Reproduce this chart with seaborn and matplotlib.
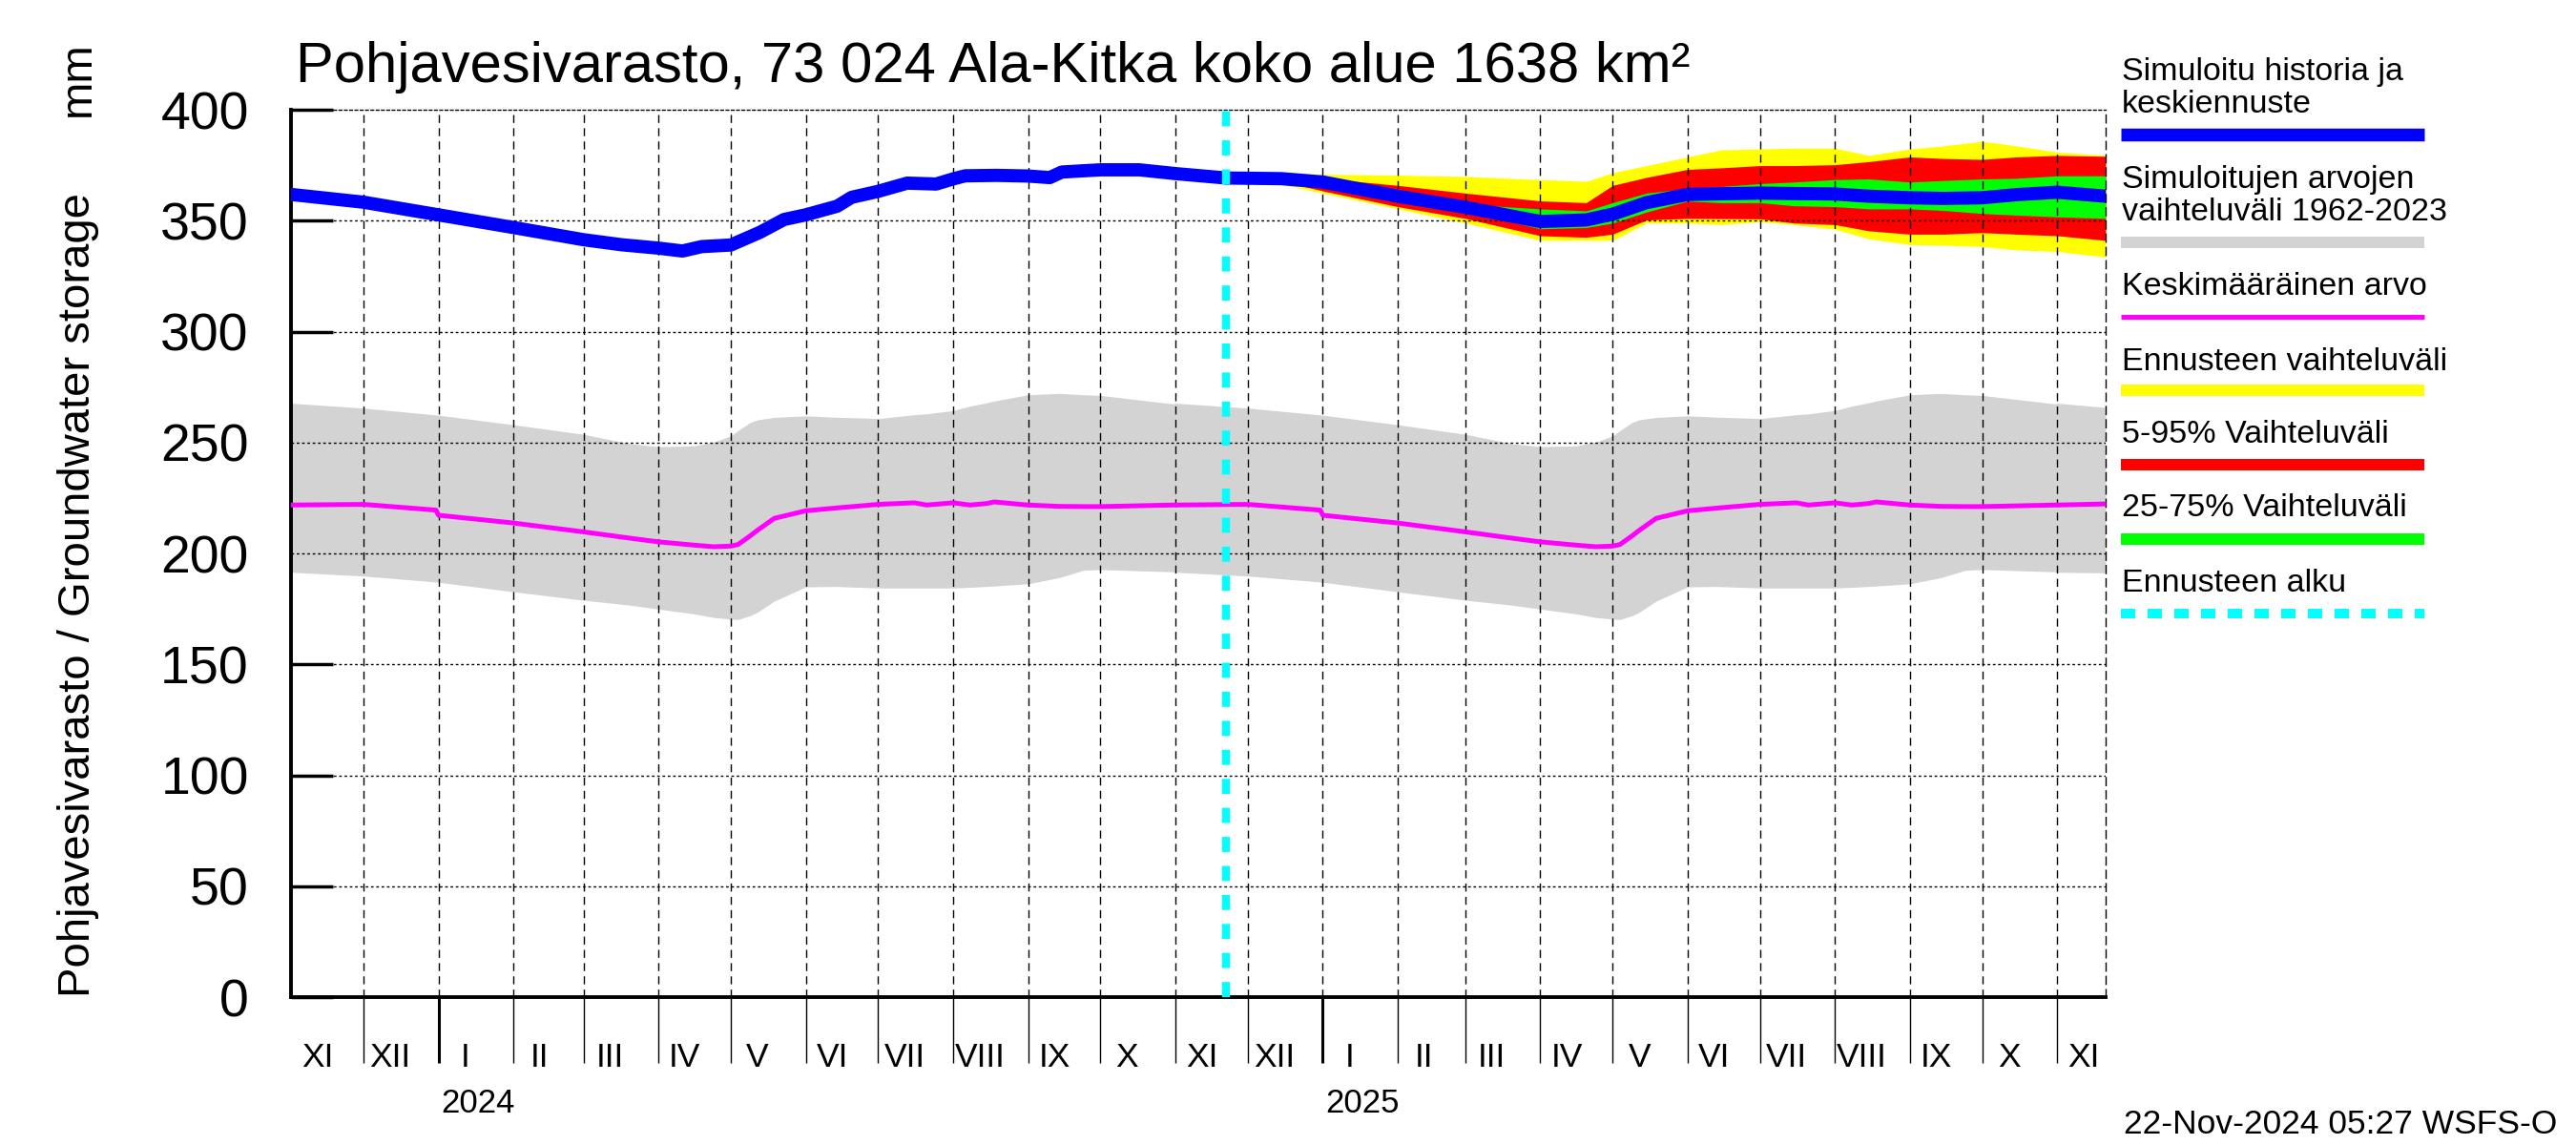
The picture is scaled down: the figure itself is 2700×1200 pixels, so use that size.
import numpy as np
import pandas as pd
import matplotlib
matplotlib.use('Agg')
import matplotlib.pyplot as plt
import matplotlib.dates as mdates
import matplotlib.transforms as mtrans
from matplotlib.lines import Line2D
import seaborn as sns

sns.set_style('white')
plt.rcParams['font.family'] = ['Liberation Sans', 'DejaVu Sans']
plt.rcParams['text.color'] = 'black'
plt.rcParams['xtick.color'] = 'black'
plt.rcParams['ytick.color'] = 'black'

start = pd.Timestamp('2023-11-01')
end = pd.Timestamp('2025-11-21')
fc_start = pd.Timestamp('2024-11-22')

# simulated range 1962-2023 and mean, by day of year
clim_md = ['01-01', '02-01', '03-01', '03-20', '04-01', '04-16', '04-24', '05-01', '05-04',
           '05-09', '05-12', '05-19', '06-01', '06-13', '07-01', '07-16', '07-21', '08-01',
           '08-08', '08-15', '08-18', '09-01', '09-14', '09-24', '10-01', '10-31', '11-01',
           '12-01', '12-31']
clim_top = [262.4, 258.1, 253.8, 249.6, 248.2, 248.6, 250.3, 253.1, 255.5,
            259.1, 260.3, 261.4, 262.1, 261.5, 260.9, 262.6, 263.0, 264.5,
            266.5, 268.0, 268.8, 271.6, 272.2, 271.6, 271.3, 267.5, 267.8,
            265.6, 262.5]
clim_low = [187.1, 182.8, 179.0, 176.8, 175.0, 172.8, 171.2, 170.5, 170.3,
            172.0, 173.6, 178.6, 185.0, 185.2, 184.5, 184.5, 184.5, 184.5,
            184.8, 185.2, 185.4, 186.4, 189.2, 192.5, 192.8, 191.8, 191.6,
            189.9, 187.2]
clim_mean = [217.3, 213.8, 209.8, 207.0, 205.3, 203.8, 203.1, 203.4, 204.1,
             208.0, 210.5, 215.9, 219.3, 220.5, 222.2, 222.9, 221.9, 222.9,
             221.9, 222.6, 223.3, 221.9, 221.3, 221.2, 221.2, 221.9, 221.9,
             222.2, 219.6]
clim_end = [265.9, 191.3, 222.4]

# simulated history
hist_dates = ['2023-11-01', '2023-12-01', '2024-01-01', '2024-02-01', '2024-03-01', '2024-03-17',
              '2024-04-01', '2024-04-11', '2024-04-19', '2024-05-01', '2024-05-13', '2024-05-23',
              '2024-06-01', '2024-06-14', '2024-06-20', '2024-07-01', '2024-07-13', '2024-07-25',
              '2024-08-01', '2024-08-06', '2024-08-19', '2024-09-01', '2024-09-10', '2024-09-15',
              '2024-10-01', '2024-10-17', '2024-11-01']
hist_vals = [361.9, 358.4, 352.7, 347.0, 341.5, 339.2,
             337.7, 336.4, 338.4, 339.1, 344.8, 350.6,
             352.7, 356.6, 360.6, 363.3, 367.0, 366.6,
             368.9, 370.3, 370.5, 370.2, 369.5, 372.0,
             373.0, 373.0, 371.3]

# forecast
fc_dates = ['2024-11-22', '2024-12-01', '2024-12-15', '2025-01-01', '2025-02-01', '2025-03-01',
            '2025-04-01', '2025-04-20', '2025-05-01', '2025-05-15', '2025-06-01', '2025-06-15',
            '2025-07-01', '2025-07-15', '2025-08-01', '2025-08-15', '2025-09-01', '2025-09-15',
            '2025-10-01', '2025-10-15', '2025-11-01', '2025-11-21']
fc_median = [369.3, 369.2, 369.0, 367.5, 361.1, 356.1, 349.7, 350.4, 353.0, 358.2, 361.9, 362.2,
             362.5, 362.3, 362.1, 361.1, 360.4, 360.1, 360.4, 361.8, 362.9, 361.1]
fc_max = [369.3, 369.8, 371.8, 371.0, 370.6, 370.0, 368.6, 367.8, 371.7, 374.9, 378.8, 382.0,
          382.4, 382.8, 382.8, 379.5, 382.4, 383.8, 385.9, 383.8, 381.0, 379.5]
fc_p95 = [369.3, 369.6, 370.0, 369.2, 366.0, 362.5, 359.0, 358.2, 366.0, 369.6, 373.2, 373.9,
          374.9, 374.9, 375.3, 376.7, 378.8, 378.1, 377.7, 378.8, 379.5, 379.1]
fc_p75 = [369.3, 369.4, 369.6, 368.5, 362.5, 357.5, 355.4, 354.5, 358.2, 362.5, 364.6, 365.5,
          366.8, 367.5, 368.6, 368.9, 367.5, 368.2, 368.9, 369.2, 370.3, 370.3]
fc_p25 = [369.3, 369.0, 368.4, 366.5, 359.5, 354.5, 346.4, 347.0, 349.0, 354.0, 358.9, 358.2,
          358.2, 356.8, 356.4, 355.4, 355.4, 354.7, 353.3, 352.6, 351.8, 351.1]
fc_p05 = [369.3, 368.8, 367.8, 363.5, 356.4, 351.1, 343.3, 342.6, 344.0, 350.4, 351.1, 351.0,
          350.9, 349.0, 348.3, 345.5, 344.0, 344.0, 344.7, 344.0, 343.3, 341.2]
fc_min = [369.3, 368.6, 366.5, 362.5, 355.4, 349.0, 341.2, 341.2, 341.2, 349.0, 349.0, 348.3,
          349.7, 348.3, 346.2, 341.9, 339.3, 339.0, 338.4, 336.9, 336.2, 333.7]

roman = ['I', 'II', 'III', 'IV', 'V', 'VI', 'VII', 'VIII', 'IX', 'X', 'XI', 'XII']

legend_labels = [['Simuloitu historia ja', 'keskiennuste'],
                 ['Simuloitujen arvojen', 'vaihteluväli 1962-2023'],
                 ['Keskimääräinen arvo'],
                 ['Ennusteen vaihteluväli'],
                 ['5-95% Vaihteluväli'],
                 ['25-75% Vaihteluväli'],
                 ['Ennusteen alku']]
legend_colors = ['blue', '#d3d3d3', 'magenta', 'yellow', 'red', '#00ff00', 'cyan']

# --- tables ---
rows = []
for yr in (2023, 2024, 2025):
    for md, t, l, m in zip(clim_md, clim_top, clim_low, clim_mean):
        d = pd.Timestamp(f'{yr}-{md}')
        if start <= d <= end:
            rows.append((d, t, l, m))
rows.append((end, *clim_end))
clim = pd.DataFrame(rows, columns=['date', 'top', 'low', 'mean']).sort_values('date')

fc = pd.DataFrame({'date': pd.to_datetime(fc_dates), 'median': fc_median,
                   'min': fc_min, 'max': fc_max, 'p05': fc_p05, 'p95': fc_p95,
                   'p25': fc_p25, 'p75': fc_p75})
blue = pd.DataFrame({'date': list(pd.to_datetime(hist_dates)) + list(fc['date']),
                     'value': hist_vals + fc_median})

# --- figure ---
fig, ax = plt.subplots(figsize=(27, 12), dpi=100)
fig.subplots_adjust(left=0.113, right=0.8174, bottom=0.129, top=0.904)

ax.fill_between(clim['date'], clim['low'], clim['top'], color='#d3d3d3', lw=0, zorder=1)
ax.fill_between(fc['date'], fc['min'], fc['max'], color='yellow', lw=0, zorder=1.1)
ax.fill_between(fc['date'], fc['p05'], fc['p95'], color='red', lw=0, zorder=1.2)
ax.fill_between(fc['date'], fc['p25'], fc['p75'], color='#00ff00', lw=0, zorder=1.3)

months = pd.date_range('2023-12-01', '2025-11-01', freq='MS')
for m in months:
    ax.axvline(m, color='black', lw=1, ls=(0, (6, 4)), zorder=2)
for y in range(50, 400, 50):
    ax.axhline(y, color='black', lw=1, ls=(0, (2, 2)), zorder=2)

sns.lineplot(data=clim, x='date', y='mean', color='magenta', linewidth=3.6, ax=ax, zorder=4)
sns.lineplot(data=blue, x='date', y='value', color='blue', linewidth=10, ax=ax, zorder=5)
ax.axvline(fc_start, color='cyan', lw=6, ls=(0, (1.9, 1.75)), zorder=6)

ax.set_xlim(start, end)
ax.set_ylim(0, 400)
ax.set_xlabel('')
ax.set_ylabel('')

for side in ['top', 'right']:
    ax.spines[side].set_linewidth(1)
    ax.spines[side].set_color('black')
ax.spines['top'].set_linestyle((0, (2, 2)))
ax.spines['right'].set_linestyle((0, (6, 4)))
for side in ['left', 'bottom']:
    ax.spines[side].set_linewidth(2.8)
    ax.spines[side].set_color('black')

ax.set_yticks(range(0, 401, 50))
ax.tick_params(axis='y', left=True, direction='in', length=32, width=2.5, labelsize=40,
               pad=32, color='black', labelcolor='black')

ax.set_xticks(pd.to_datetime(['2024-01-01', '2025-01-01']))
ax.set_xticks(months, minor=True)
ax.set_xticklabels([])
ax.tick_params(axis='x', which='major', bottom=True, direction='out', length=50, width=2.2,
               color='black')
ax.tick_params(axis='x', which='minor', bottom=True, direction='out', length=50, width=1,
               color='black')

trans = mtrans.blended_transform_factory(ax.transData, ax.transAxes)
for m in pd.date_range('2023-11-01', '2025-11-01', freq='MS'):
    ax.text(m + pd.Timedelta(days=11), -0.068, roman[m.month - 1], transform=trans,
            ha='center', va='center', fontsize=25.5)
for yr in (2024, 2025):
    ax.text(pd.Timestamp(f'{yr}-01-02'), -0.13, str(yr), transform=trans, ha='left',
            va='baseline', fontsize=25)

fig.text(310 / 2700, 1 - 86 / 1200, 'Pohjavesivarasto, 73 024 Ala-Kitka koko alue 1638 km²',
         fontsize=43, va='baseline', ha='left')
fig.text(82 / 2700, 1 - 1045 / 1200, 'Pohjavesivarasto / Groundwater storage', rotation=90,
         ha='center', va='bottom', fontsize=34)
fig.text(82 / 2700, 1 - 43 / 1200, 'mm', rotation=90, ha='center', va='top', fontsize=34)
fig.text(2680 / 2700, 1 - 1188 / 1200, '22-Nov-2024 05:27 WSFS-O', ha='right', va='baseline',
         fontsize=25.5)

# legend at the right
text_y = [[84, 117.6], [197, 231], [309.4], [387.8], [464.5], [541], [619.6]]
bar_y = [141.2, 254.3, 332, 409.4, 487, 565.3, 642.9]
bar_w = [13.5, 12, 5, 12, 12, 12, 10]
for lines, ys, col, by, bw in zip(legend_labels, text_y, legend_colors, bar_y, bar_w):
    for line, ty in zip(lines, ys):
        fig.text(2224 / 2700, 1 - ty / 1200, line, fontsize=24.5, ha='left', va='baseline')
    ls = (0, (1.5, 1.3)) if col == 'cyan' else '-'
    fig.add_artist(Line2D([2223 / 2700, 2541 / 2700], [1 - by / 1200, 1 - by / 1200],
                          transform=fig.transFigure, color=col, lw=bw * 0.72,
                          ls=ls, solid_capstyle='butt', dash_capstyle='butt'))

fig.savefig('out.png', dpi=100)
